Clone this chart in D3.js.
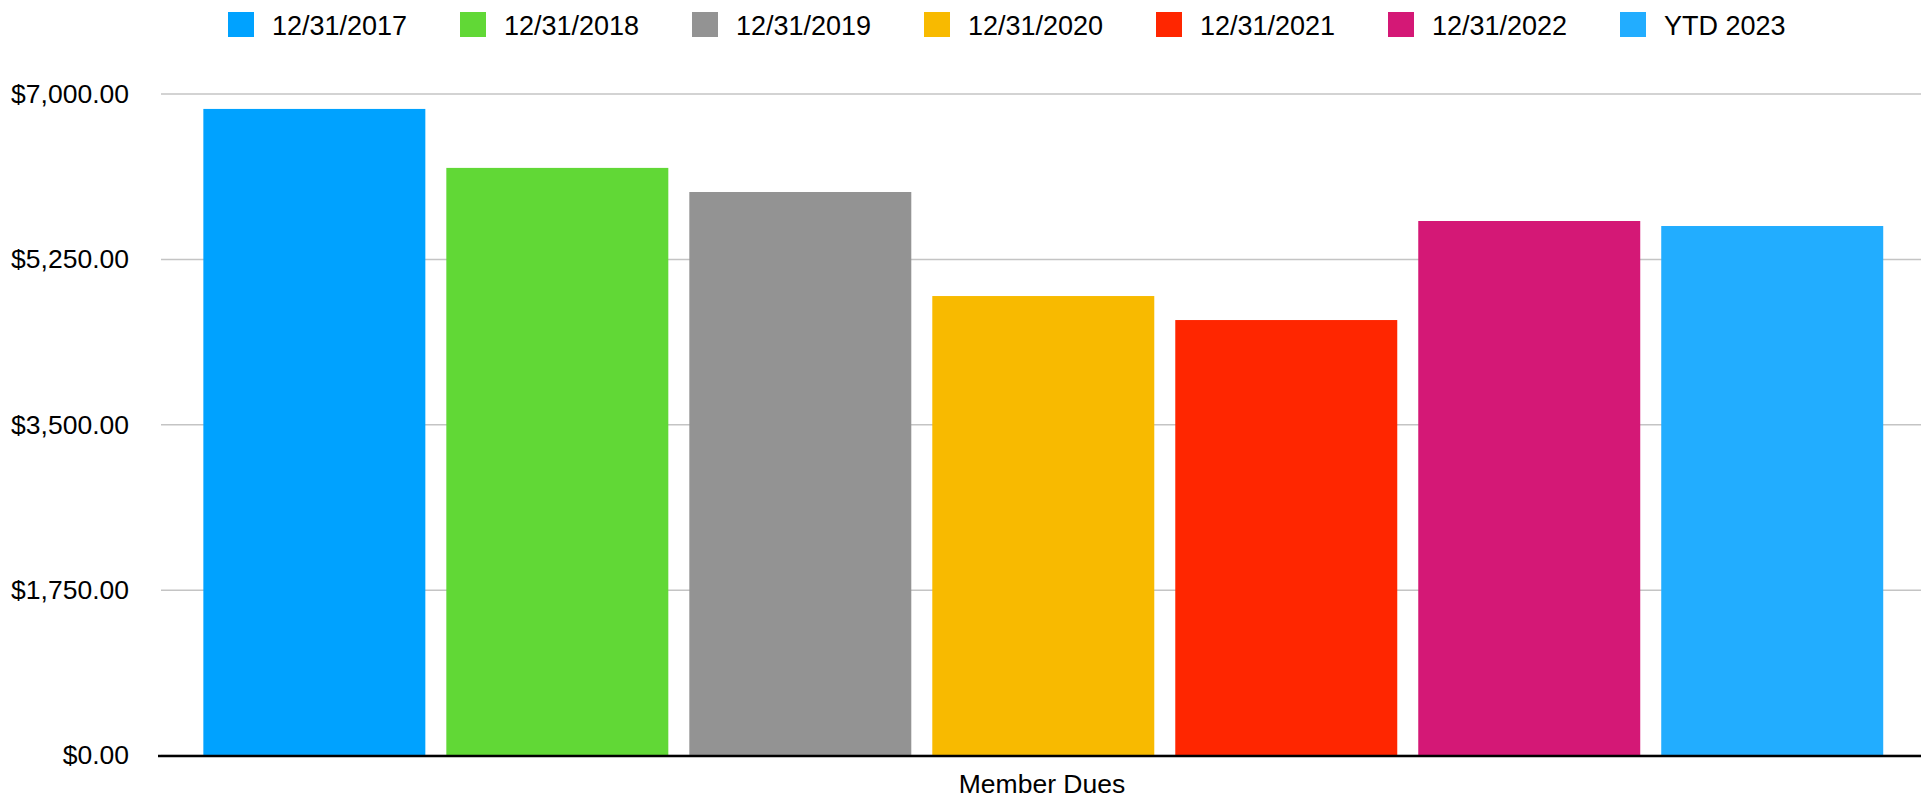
<!DOCTYPE html>
<html>
<head>
<meta charset="utf-8">
<script src="https://cdn.jsdelivr.net/npm/d3@7"></script>
<style>
  body { margin: 0; background: #fff; }
  text { font-family: "Liberation Sans", Arial, Helvetica, sans-serif; fill: #000; }
</style>
</head>
<body>
<div id="graph"></div>
<script>
const periods = ["12/31/2017", "12/31/2018", "12/31/2019", "12/31/2020", "12/31/2021", "12/31/2022", "YTD 2023"];
const dues = [6842, 6218, 5963, 4862, 4608, 5656, 5603];
const yTicks = [0, 1750, 3500, 5250, 7000];
const category = "Member Dues";

const width = 1921;
const height = 799;
const margin = { left: 159, right: 0, top: 94, bottom: 43.5 };
const colors = ["#00A2FF", "#61D836", "#939393", "#F8BA00", "#FF2600", "#D41876", "#22ADFF"];

let formatMoney = d3.format("$,.2f");

let svg = d3.select('#graph')
  .append('svg')
  .attr('width', width)
  .attr('height', height);

let xScale = d3.scaleBand()
  .domain(periods)
  .range([margin.left, width - margin.right])
  .paddingInner(0.0864)
  .paddingOuter(0.169)
  .align(0.54);

let yScale = d3.scaleLinear()
  .domain([0, 7000])
  .range([height - margin.bottom, margin.top]);

// grid lines
svg.append('g')
  .selectAll('line')
  .data(yTicks)
  .enter()
  .append('line')
  .attr('x1', margin.left + 2)
  .attr('x2', width)
  .attr('y1', d => yScale(d))
  .attr('y2', d => yScale(d))
  .attr('stroke', '#c4c4c4')
  .attr('stroke-width', 1.5);

// y axis labels
let yAxis = d3.axisLeft(yScale)
  .tickValues(yTicks)
  .tickFormat(formatMoney)
  .tickSize(0)
  .tickPadding(0);

let yG = svg.append('g')
  .attr('transform', `translate(129, 0)`)
  .call(yAxis);
yG.select('.domain').remove();
yG.selectAll('text')
  .style('font-size', '26.5px')
  .attr('fill', '#000');

// bars
svg.append('g')
  .selectAll('rect')
  .data(dues)
  .enter()
  .append('rect')
  .attr('x', (d, i) => xScale(periods[i]))
  .attr('y', d => yScale(d))
  .attr('width', xScale.bandwidth())
  .attr('height', d => yScale(0) - yScale(d))
  .attr('fill', (d, i) => colors[i]);

// baseline
svg.append('line')
  .attr('x1', margin.left - 1)
  .attr('x2', width)
  .attr('y1', yScale(0) + 0.5)
  .attr('y2', yScale(0) + 0.5)
  .attr('stroke', '#000')
  .attr('stroke-width', 2.5);

// x axis title
svg.append('text')
  .attr('text-anchor', 'middle')
  .attr('x', (margin.left + width) / 2 + 2)
  .attr('y', 793)
  .style('font-size', '26.5px')
  .text(category);

// legend
let legend = svg.append('g').attr('class', 'legend');
periods.forEach((p, i) => {
  legend.append('rect')
    .attr('x', 228 + i * 232)
    .attr('y', 12)
    .attr('width', 26)
    .attr('height', 25)
    .attr('fill', colors[i]);
  legend.append('text')
    .attr('x', 272 + i * 232)
    .attr('y', 34.5)
    .style('font-size', '27px')
    .text(p);
});
</script>
</body>
</html>
